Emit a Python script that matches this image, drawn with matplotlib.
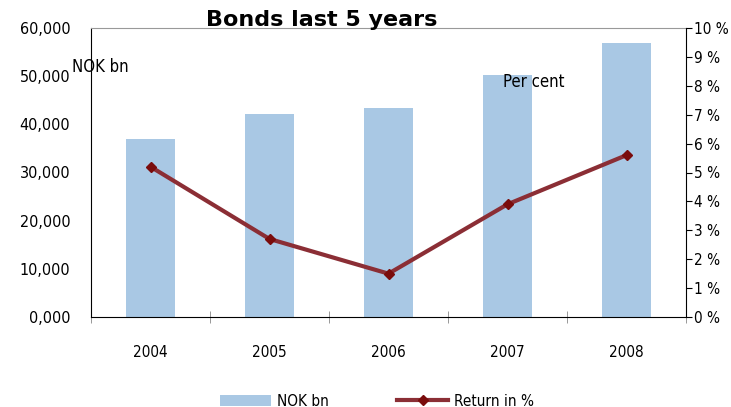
import matplotlib.pyplot as plt
import numpy as np
from matplotlib.ticker import FuncFormatter

years = ['2004', '2005', '2006', '2007', '2008']
nok_bn = [37000, 42100, 43400, 50200, 56900]
return_pct = [5.2, 2.7, 1.5, 3.9, 5.6]

plt.rcParams['font.family'] = ['DejaVu Sans']
plt.rcParams['font.stretch'] = 'condensed'

fig = plt.figure(figsize=(7.31, 4.07), dpi=100)
ax = fig.add_axes([91 / 731, 1 - 317 / 407, 595 / 731, 289 / 407])
x = np.arange(len(years))

bars = ax.bar(x, nok_bn, width=0.41, color='#a9c8e4', label='NOK bn', zorder=2)
ax.set_xlim(-0.5, 4.5)
ax.set_ylim(0, 60000)
ax.set_yticks(range(0, 60001, 10000))
ax.yaxis.set_major_formatter(FuncFormatter(lambda v, p: '0,000' if v == 0 else f'{int(v):,}'))
ax.set_xticks(x)
ax.set_xticklabels(years)
ax.set_xticks(np.arange(-0.5, 5, 1), minor=True)
ax.tick_params(axis='x', which='major', length=0, pad=20, labelsize=11)
ax.tick_params(axis='x', which='minor', length=8, direction='inout', color='#888888')
ax.tick_params(axis='y', length=0, labelsize=11.5, pad=15)
ax.spines['top'].set_color('#999999')
ax.spines['right'].set_visible(False)

# Axe de droite pour le rendement
ax2 = ax.twinx()
line, = ax2.plot(x, return_pct, color='#8b2e35', lw=3, marker='D', markersize=5,
                 markerfacecolor='#7a0c0c', markeredgecolor='#7a0c0c', label='Return in %', zorder=3)
ax2.set_ylim(0, 10)
ax2.set_yticks(range(0, 11))
ax2.yaxis.set_major_formatter(FuncFormatter(lambda v, p: f'{int(v)} %'))
ax2.tick_params(axis='y', length=4, labelsize=11, pad=2)
ax2.spines['top'].set_visible(False)
ax2.spines['left'].set_visible(False)
ax2.spines['bottom'].set_visible(False)

ax.text(72 / 731, 1 - 67 / 407, 'NOK bn', transform=fig.transFigure, fontsize=12, va='center')
ax.text(503 / 731, 1 - 82 / 407, 'Per cent', transform=fig.transFigure, fontsize=12, va='center')
fig.text(322 / 731, 1 - 20 / 407, 'Bonds last 5 years', fontsize=16, fontweight='bold',
         ha='center', va='center', stretch='normal')

fig.legend(handles=[bars, line], loc='center', bbox_to_anchor=(377 / 731, 1 - 401 / 407),
           ncol=2, frameon=False, fontsize=11, handlelength=3.3, columnspacing=4.5,
           handletextpad=0.4)

fig.savefig('out.png', dpi=100)
